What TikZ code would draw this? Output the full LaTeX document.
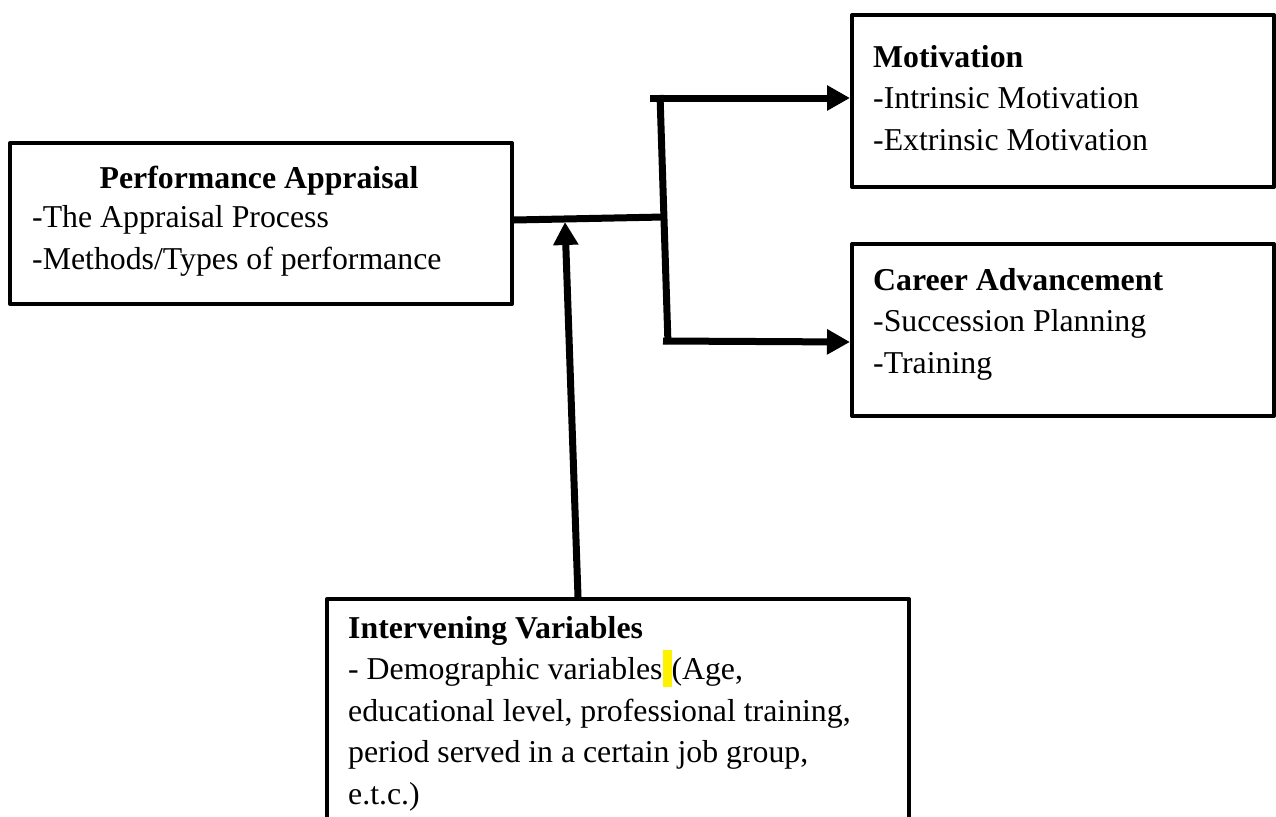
\documentclass[tikz,border=0pt]{standalone}
\usepackage{fontspec}
\setmainfont{Liberation Serif}
\usetikzlibrary{arrows.meta}
\begin{document}
\begin{tikzpicture}[x=1pt,y=-1pt,
  box/.style={draw=black,line width=4pt,line join=round,inner sep=0pt,anchor=north west},
  txt/.style={inner sep=0pt,anchor=base west,align=left,font=\fontsize{31.8}{41.5}\selectfont},
  conn/.style={line width=7pt},
  arr/.style={line width=7pt,-{Triangle[length=23pt,width=24pt]}}]
\useasboundingbox (0,0) rectangle (1276,816);
% boxes
\node[box,minimum width=502pt,minimum height=161pt] (pa) at (8,141) {};
\node[box,minimum width=422pt,minimum height=172pt] (mot) at (850,13) {};
\node[box,minimum width=422pt,minimum height=172pt] (car) at (850,242) {};
\node[box,minimum width=582pt,minimum height=260pt] (iv) at (325,597) {};
% texts (base anchor = baseline of the last line)
\node[txt,anchor=base] (pah) at (259,188) {\textbf{Performance Appraisal}};
\node[txt] (pat) at (32,269) {-The Appraisal Process\\-Methods/Types of performance};
\node[txt] (mott) at (873,150) {\textbf{Motivation}\\-Intrinsic Motivation\\-Extrinsic Motivation};
\node[txt] (cart) at (873,373) {\textbf{Career Advancement}\\-Succession Planning\\-Training};
\node[txt] (ivt) at (348,804) {\textbf{Intervening Variables}\\- Demographic variables{\setlength{\fboxsep}{0pt}\colorbox{yellow}{\rule[-7pt]{0pt}{37pt}\hspace{9pt}}}(Age,\\educational level, professional training,\\period served in a certain job group,\\e.t.c.)};
% connectors
\coordinate (j) at (664,217);
\coordinate (vt) at (660,95);
\coordinate (vb) at (668,344);
\coordinate (tl) at (650,98);
\coordinate (bl) at (663,341);
\coordinate (ub) at (578,597);
\coordinate (ut) at (565,222);
\draw[conn] (pa.east |- 0,220) -- (j);
\draw[conn] (vt) -- (vb);
\draw[arr] (tl) -- (tl -| mot.west);
\draw[arr] (bl) -- ([yshift=-1pt]bl -| car.west);
\draw[arr,shorten <=-2pt] (ub |- iv.north) -- (ut);
\end{tikzpicture}
\end{document}
